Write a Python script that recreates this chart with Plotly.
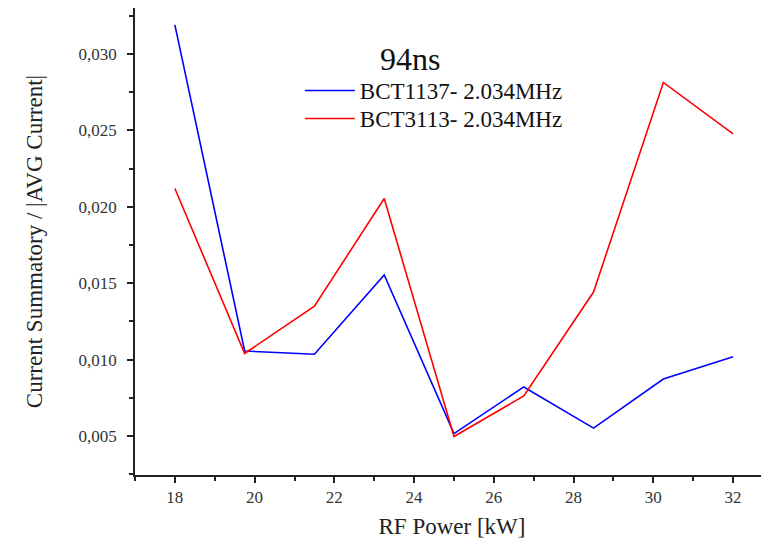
import plotly.graph_objects as go

rf_power = [18, 19.75, 21.5, 23.25, 25, 26.75, 28.5, 30.25, 32]
bct1137 = [0.0319, 0.01056, 0.01035, 0.01554, 0.00516, 0.00821, 0.00552, 0.00873, 0.01019]
bct3113 = [0.02119, 0.01040, 0.01349, 0.02054, 0.00497, 0.00762, 0.01442, 0.02813, 0.02477]

FONT = "Liberation Serif"

fig = go.Figure()
fig.add_trace(go.Scatter(x=rf_power, y=bct1137, mode="lines", name="BCT1137- 2.034MHz",
                         line=dict(color="#0000ff", width=1.6), legend="legend"))
fig.add_trace(go.Scatter(x=rf_power, y=bct3113, mode="lines", name="BCT3113- 2.034MHz",
                         line=dict(color="#ff0000", width=1.6), legend="legend2"))

leg_common = dict(xanchor="left", yanchor="top", bgcolor="rgba(0,0,0,0)",
                  font=dict(family=FONT, size=23, color="#111111"), itemwidth=50)

fig.update_layout(
    width=769, height=549,
    margin=dict(l=127, r=8, t=0, b=82),
    paper_bgcolor="white", plot_bgcolor="white",
    separators=", ",
    font=dict(family=FONT, color="#222222"),
    showlegend=True,
    legend=dict(x=0.26, y=0.8694, **leg_common),
    legend2=dict(x=0.26, y=0.8094, **leg_common),
    annotations=[dict(text="94ns", x=0.434, y=0.891, xref="paper", yref="paper",
                      showarrow=False, font=dict(family=FONT, size=32, color="#111111"),
                      xanchor="center", yanchor="middle")],
)

fig.update_xaxes(
    range=[17, 32.9], showgrid=False, zeroline=False, automargin=False,
    showline=True, linecolor="#222222", linewidth=1.5,
    ticks="outside", ticklen=6, tickwidth=1.5, tickcolor="#222222",
    tickvals=[18, 20, 22, 24, 26, 28, 30, 32],
    minor=dict(ticks="outside", ticklen=4, tickwidth=1.5, tickcolor="#222222", dtick=1, tick0=17),
    tickfont=dict(family=FONT, size=17, color="#333333"),
    title=dict(text="RF Power [kW]", font=dict(family=FONT, size=23, color="#222222"), standoff=12),
)
fig.update_yaxes(
    range=[0.00245, 0.033], showgrid=False, zeroline=False, automargin=False,
    showline=True, linecolor="#222222", linewidth=1.5,
    ticks="outside", ticklen=6, tickwidth=1.5, tickcolor="#222222",
    tickvals=[0.005, 0.010, 0.015, 0.020, 0.025, 0.030], tickformat=".3f",
    ticklabelstandoff=7,
    minor=dict(ticks="outside", ticklen=4, tickwidth=1.5, tickcolor="#222222", dtick=0.0025, tick0=0.0025),
    tickfont=dict(family=FONT, size=17, color="#333333"),
    title=dict(text="Current Summatory / |AVG Current|", font=dict(family=FONT, size=23, color="#222222"), standoff=30),
)

fig.write_html("out.html")
